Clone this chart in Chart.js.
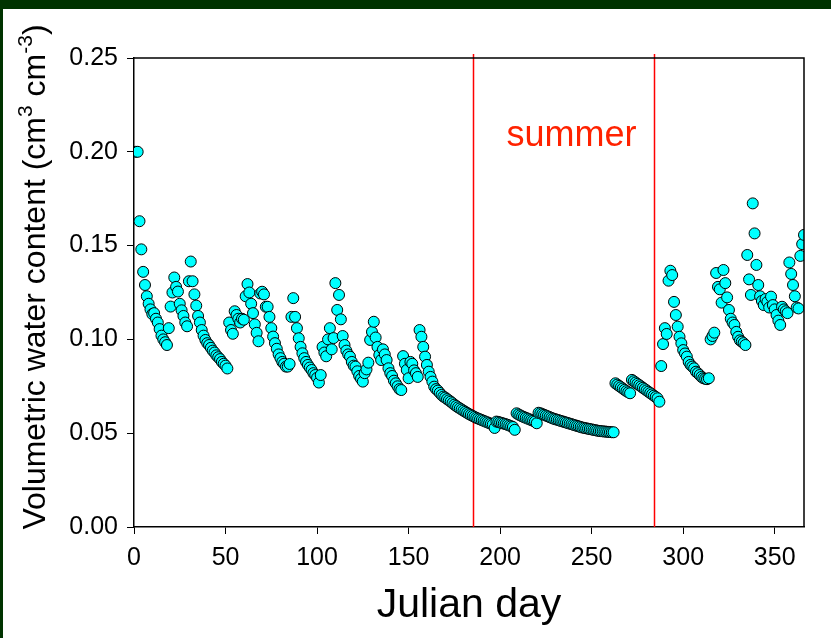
<!DOCTYPE html>
<html>
<head>
<meta charset="utf-8">
<title>Volumetric water content</title>
<script src="https://cdn.jsdelivr.net/npm/chart.js@4.4.0/dist/chart.umd.min.js"></script>
<style>
  html, body { margin: 0; padding: 0; background: #003300; }
  #wrap { position: absolute; left: 3px; top: 9px; width: 828px; height: 629px; background: #fff; }
  canvas { display: block; }
</style>
</head>
<body>
<div id="wrap"><canvas id="vwcChart" width="828" height="629"></canvas></div>
<script>
// daily soil water content, day 1 .. 366
var vwc = [
  0.200, 0.200, 0.163, 0.148, 0.136, 0.129, 0.123, 0.119, 0.116, 0.1135,
  0.114, 0.111, 0.109, 0.1055, 0.102, 0.100, 0.0985, 0.097, 0.106, 0.1175,
  0.125, 0.133, 0.128, 0.1255, 0.119, 0.1155, 0.1125, 0.109, 0.107, 0.131,
  0.1415, 0.131, 0.124, 0.118, 0.1125, 0.109, 0.105, 0.102, 0.0997, 0.098,
  0.097, 0.0955, 0.094, 0.093, 0.0915, 0.0905, 0.0895, 0.088, 0.087, 0.086,
  0.0845, 0.109, 0.105, 0.103, 0.115, 0.113, 0.111, 0.109, 0.111, 0.1105,
  0.123, 0.1295, 0.125, 0.119, 0.114, 0.108, 0.1035, 0.099, 0.1245, 0.1254,
  0.124, 0.1174, 0.1174, 0.112, 0.106, 0.1015, 0.098, 0.095, 0.092, 0.090,
  0.088, 0.087, 0.0855, 0.0855, 0.0869, 0.112, 0.122, 0.112, 0.106, 0.1006,
  0.096, 0.0926, 0.090, 0.088, 0.0864, 0.085, 0.0837, 0.082, 0.081, 0.0795,
  0.077, 0.081, 0.096, 0.093, 0.091, 0.100, 0.106, 0.0947, 0.1007, 0.130,
  0.1157, 0.1237, 0.1107, 0.1018, 0.097, 0.094, 0.092, 0.0908, 0.088, 0.086,
  0.0855, 0.083, 0.0805, 0.079, 0.0775, 0.082, 0.084, 0.0876, 0.0997, 0.104,
  0.1094, 0.101, 0.096, 0.0917, 0.089, 0.0947, 0.092, 0.089, 0.0846, 0.082,
  0.0805, 0.078, 0.0766, 0.075, 0.0735, 0.073, 0.0911, 0.087, 0.0837, 0.0793,
  0.088, 0.087, 0.0835, 0.082, 0.080, 0.105, 0.1014, 0.096, 0.0908, 0.0864,
  0.0828, 0.080, 0.0775, 0.0748, 0.0735, 0.0727, 0.0715, 0.0704, 0.0695, 0.069,
  0.0682, 0.0675, 0.0668, 0.066, 0.0652, 0.0645, 0.0638, 0.0632, 0.0626, 0.062,
  0.0614, 0.0608, 0.0602, 0.0597, 0.0592, 0.0587, 0.0582, 0.0578, 0.0574, 0.057,
  0.0566, 0.0562, 0.0558, 0.0554, 0.055, 0.0546, 0.0528, 0.0562, 0.056, 0.0557,
  0.0554, 0.0551, 0.0548, 0.0545, 0.0541, 0.0537, 0.0533, 0.0518, 0.0606, 0.060,
  0.0595, 0.059, 0.0586, 0.0582, 0.0578, 0.0574, 0.057, 0.0566, 0.0562, 0.0553,
  0.0609, 0.0606, 0.0602, 0.0598, 0.0594, 0.059, 0.0586, 0.0582, 0.0578, 0.0575,
  0.0572, 0.0569, 0.0566, 0.0563, 0.056, 0.0557, 0.0554, 0.0551, 0.0548, 0.0545,
  0.0542, 0.0539, 0.0536, 0.0533, 0.053, 0.0528, 0.0526, 0.0524, 0.0522, 0.052,
  0.0518, 0.0516, 0.0514, 0.0512, 0.0511, 0.051, 0.0509, 0.0508, 0.0507, 0.0506,
  0.0505, 0.0505, 0.0766, 0.0759, 0.0752, 0.0745, 0.0738, 0.0731, 0.0724, 0.0718,
  0.0713, 0.0784, 0.0777, 0.077, 0.0763, 0.0756, 0.0749, 0.0742, 0.0735, 0.0728,
  0.0721, 0.0714, 0.0707, 0.070, 0.0693, 0.0686, 0.0668, 0.0858, 0.0975, 0.106,
  0.1029, 0.1313, 0.1366, 0.1343, 0.120, 0.113, 0.1068, 0.1014, 0.0979, 0.0943,
  0.0925, 0.0908, 0.088, 0.0864, 0.0855, 0.0846, 0.0828, 0.082, 0.081, 0.080,
  0.0793, 0.079, 0.0788, 0.0793, 0.100, 0.1018, 0.1036, 0.1354, 0.128, 0.1267,
  0.1196, 0.137, 0.130, 0.1224, 0.1157, 0.111, 0.109, 0.1077, 0.104, 0.1014,
  0.0995, 0.0988, 0.098, 0.097, 0.145, 0.132, 0.1237, 0.1725, 0.1565, 0.1397,
  0.129, 0.123, 0.1205, 0.1183, 0.1215, 0.120, 0.117, 0.1228, 0.1183, 0.116,
  0.113, 0.110, 0.1077, 0.1174, 0.116, 0.115, 0.114, 0.141, 0.1349, 0.129,
  0.123, 0.117, 0.1165, 0.1445, 0.1508, 0.1557
];
var days = vwc.map(function (v, i) { return i + 1; });

var summerDays = [185, 284];
var summerLabel = 'summer';
var xTitle = 'Julian day';
var yTitleParts = ['Volumetric water content (cm', '3', ' cm', '-3', ')'];

var fontFamily = '"Liberation Sans", Arial, Helvetica, sans-serif';

function getPoints() {
  var pts = [];
  days.forEach(function (d, i) {
    pts.push({ x: d, y: vwc[i] });
  });
  return pts;
}

var marks = {
  id: 'marks',
  beforeDatasetsDraw: function (chart) {
    var ctx = chart.ctx, area = chart.chartArea, xs = chart.scales.x;
    ctx.save();
    ctx.strokeStyle = '#ff0000';
    ctx.lineWidth = 1.5;
    summerDays.forEach(function (d) {
      var px = Math.round(xs.getPixelForValue(d)) + 0.5;
      ctx.beginPath();
      ctx.moveTo(px, area.top - 4);
      ctx.lineTo(px, area.bottom);
      ctx.stroke();
    });
    ctx.restore();
  },
  afterDatasetsDraw: function (chart) {
    var ctx = chart.ctx, area = chart.chartArea;
    ctx.save();
    ctx.strokeStyle = '#000';
    ctx.lineWidth = 1.5;
    ctx.beginPath();
    ctx.moveTo(area.left, area.top);
    ctx.lineTo(area.right, area.top);
    ctx.lineTo(area.right, area.bottom);
    ctx.stroke();
    ctx.restore();
  },
  afterDraw: function (chart) {
    var ctx = chart.ctx, xs = chart.scales.x, ys = chart.scales.y;
    ctx.save();
    ctx.fillStyle = '#ff2200';
    ctx.font = '36px ' + fontFamily;
    ctx.textAlign = 'center';
    ctx.textBaseline = 'alphabetic';
    ctx.fillText(summerLabel, xs.getPixelForValue(239), ys.getPixelForValue(0.203));
    ctx.restore();

    // y title with superscripts
    var big = 32, small = 21, total = 0;
    ctx.save();
    yTitleParts.forEach(function (t, i) {
      ctx.font = (i % 2 ? small : big) + 'px ' + fontFamily;
      total += ctx.measureText(t).width;
    });
    ctx.translate(42, 268);
    ctx.rotate(-Math.PI / 2);
    ctx.fillStyle = '#000';
    ctx.textAlign = 'left';
    ctx.textBaseline = 'alphabetic';
    var x = -total / 2;
    yTitleParts.forEach(function (t, i) {
      ctx.font = (i % 2 ? small : big) + 'px ' + fontFamily;
      ctx.fillText(t, x, i % 2 ? -13 : 0);
      x += ctx.measureText(t).width;
    });
    ctx.restore();
  }
};

var ctx = document.getElementById('vwcChart');

var myChart = new Chart(ctx, {
  type: 'scatter',
  data: {
    datasets: [{
      data: getPoints(),
      backgroundColor: '#00ffff',
      borderColor: '#000',
      borderWidth: 1,
      pointRadius: 5.5,
      pointHoverRadius: 5.5
    }]
  },
  options: {
    responsive: false,
    animation: false,
    devicePixelRatio: 1,
    layout: { padding: { top: 49, right: 27, left: 0, bottom: 0 } },
    plugins: { legend: { display: false }, tooltip: { enabled: false } },
    scales: {
      x: {
        type: 'linear',
        min: 0,
        max: 366,
        afterFit: function (s) { s.height = 111; },
        ticks: { stepSize: 50, includeBounds: false, color: '#000', padding: 9, maxRotation: 0, font: { family: fontFamily, size: 25 } },
        grid: { display: true, drawOnChartArea: false, drawTicks: true, tickLength: 7, color: '#000', lineWidth: 1 },
        border: { display: true, color: '#000', width: 1.5 },
        title: { display: true, text: xTitle, color: '#000', font: { family: fontFamily, size: 41 }, padding: { top: 0, bottom: 8 } }
      },
      y: {
        min: 0,
        max: 0.25,
        afterFit: function (s) { s.width = 131; },
        ticks: {
          stepSize: 0.05, color: '#000', padding: 9, font: { family: fontFamily, size: 25 },
          callback: function (v) { return v.toFixed(2); }
        },
        grid: { display: true, drawOnChartArea: false, drawTicks: true, tickLength: 7, color: '#000', lineWidth: 1 },
        border: { display: true, color: '#000', width: 1.5 }
      }
    }
  },
  plugins: [marks]
});
</script>
</body>
</html>
